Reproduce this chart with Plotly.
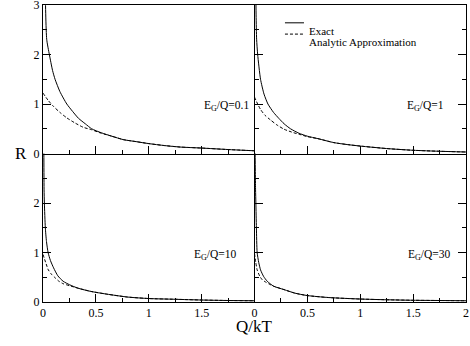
import plotly.graph_objects as go
from plotly.subplots import make_subplots

# values (Q/kT -> R)
x_exact_01 = [0.01, 0.02, 0.035, 0.06, 0.09, 0.114, 0.16, 0.225, 0.28, 0.336, 0.4, 0.46, 0.55, 0.65, 0.76, 0.88, 1.0, 1.15, 1.3, 1.5, 1.75, 2.0]
r_exact_01 = [5.0, 3.4, 2.31, 2.0, 1.68, 1.5, 1.25, 1.0, 0.85, 0.71, 0.6, 0.5, 0.42, 0.35, 0.28, 0.24, 0.2, 0.16, 0.13, 0.11, 0.08, 0.055]
x_appr_01 = [0.0, 0.05, 0.1, 0.16, 0.225, 0.3, 0.38, 0.46, 0.55, 0.65, 0.76, 0.88, 1.0, 1.15, 1.3, 1.5, 1.75, 2.0]
r_appr_01 = [1.22, 1.07, 0.95, 0.83, 0.72, 0.62, 0.53, 0.48, 0.41, 0.35, 0.28, 0.24, 0.2, 0.16, 0.13, 0.11, 0.08, 0.055]

x_exact_1 = [0.005, 0.015, 0.02, 0.03, 0.057, 0.09, 0.127, 0.18, 0.23, 0.28, 0.34, 0.42, 0.5, 0.6, 0.75, 0.88, 1.0, 1.25, 1.5, 1.75, 2.0]
r_exact_1 = [5.0, 2.8, 2.31, 2.0, 1.5, 1.2, 1.0, 0.83, 0.71, 0.6, 0.5, 0.41, 0.35, 0.3, 0.22, 0.18, 0.15, 0.1, 0.065, 0.045, 0.03]
x_appr_1 = [0.0, 0.03, 0.057, 0.1, 0.15, 0.21, 0.28, 0.37, 0.42, 0.5, 0.6, 0.75, 0.88, 1.0, 1.25, 1.5, 1.75, 2.0]
r_appr_1 = [1.14, 1.0, 0.89, 0.77, 0.68, 0.58, 0.49, 0.42, 0.39, 0.34, 0.3, 0.22, 0.18, 0.15, 0.1, 0.065, 0.045, 0.03]

x_exact_10 = [0.003, 0.008, 0.01, 0.013, 0.022, 0.033, 0.048, 0.07, 0.1, 0.14, 0.19, 0.25, 0.33, 0.45, 0.6, 0.8, 1.0, 1.25, 1.5, 1.75, 2.0]
r_exact_10 = [5.0, 3.0, 2.28, 2.0, 1.5, 1.22, 1.0, 0.84, 0.69, 0.53, 0.42, 0.35, 0.28, 0.215, 0.16, 0.1, 0.07, 0.055, 0.04, 0.03, 0.025]
x_appr_10 = [0.0, 0.025, 0.05, 0.08, 0.114, 0.15, 0.19, 0.25, 0.33, 0.45, 0.6, 0.8, 1.0, 1.25, 1.5, 1.75, 2.0]
r_appr_10 = [0.96, 0.8, 0.65, 0.56, 0.49, 0.42, 0.37, 0.33, 0.28, 0.215, 0.16, 0.1, 0.07, 0.055, 0.04, 0.03, 0.025]

x_exact_30 = [0.002, 0.005, 0.01, 0.013, 0.018, 0.025, 0.04, 0.057, 0.085, 0.12, 0.18, 0.28, 0.38, 0.5, 0.7, 1.0, 1.25, 1.5, 1.75, 2.0]
r_exact_30 = [5.0, 3.2, 2.28, 2.0, 1.5, 1.0, 0.8, 0.65, 0.52, 0.42, 0.32, 0.25, 0.18, 0.13, 0.09, 0.06, 0.045, 0.035, 0.03, 0.025]
x_appr_30 = [0.0, 0.012, 0.025, 0.05, 0.073, 0.1, 0.14, 0.18, 0.28, 0.38, 0.5, 0.7, 1.0, 1.25, 1.5, 1.75, 2.0]
r_appr_30 = [0.98, 0.8, 0.65, 0.52, 0.45, 0.41, 0.36, 0.32, 0.25, 0.18, 0.13, 0.09, 0.06, 0.045, 0.035, 0.03, 0.025]

panel_labels = ["E<sub>G</sub>/Q=0.1", "E<sub>G</sub>/Q=1", "E<sub>G</sub>/Q=10", "E<sub>G</sub>/Q=30"]
legend_names = ["Exact", "Analytic Approximation"]

FONT = "Liberation Serif"

fig = make_subplots(rows=2, cols=2, horizontal_spacing=0, vertical_spacing=0)

panels = [
    (1, 1, x_exact_01, r_exact_01, x_appr_01, r_appr_01),
    (1, 2, x_exact_1, r_exact_1, x_appr_1, r_appr_1),
    (2, 1, x_exact_10, r_exact_10, x_appr_10, r_appr_10),
    (2, 2, x_exact_30, r_exact_30, x_appr_30, r_appr_30),
]
for row, col, xe, re_, xa, ra in panels:
    fig.add_trace(go.Scatter(x=xe, y=re_, mode="lines", line=dict(color="black", width=1, shape="spline", smoothing=0.6),
                             showlegend=False), row=row, col=col)
    fig.add_trace(go.Scatter(x=xa, y=ra, mode="lines", line=dict(color="black", width=1, dash="3px,2px", shape="spline", smoothing=0.6),
                             showlegend=False), row=row, col=col)

axis_common = dict(showline=True, linecolor="black", linewidth=1, ticks="inside", ticklen=8,
                   tickwidth=1, tickcolor="black", showgrid=False, zeroline=False,
                   ticklabeloverflow="allow", automargin=False,
                   tickfont=dict(family=FONT, size=12, color="black"))

for row in (1, 2):
    for col in (1, 2):
        xticks = dict(tickvals=[0, 0.5, 1, 1.5, 2] if col == 2 else [0, 0.5, 1, 1.5],
                      showticklabels=(row == 2))
        fig.update_xaxes(range=[0, 2], minor=dict(dtick=0.25, ticklen=4, ticks="inside", tickcolor="black"),
                         mirror=(row == 1), **xticks, **axis_common, row=row, col=col)
        fig.update_yaxes(range=[0, 3], tickvals=[0, 1, 2, 3] if row == 1 else [0, 1, 2],
                         minor=dict(dtick=0.5, ticklen=4, ticks="inside", tickcolor="black"),
                         showticklabels=(col == 1), mirror=("ticks" if col == 2 else False),
                         **axis_common, row=row, col=col)

# panel labels
label_pos = [("x", "y", 1.50), ("x2", "y2", 1.42), ("x3", "y3", 1.41), ("x4", "y4", 1.43)]
for (xr, yr, lx), txt in zip(label_pos, panel_labels):
    fig.add_annotation(x=lx, y=0.95, xref=xr, yref=yr, text=txt, showarrow=False, xanchor="left",
                       font=dict(family=FONT, size=11.5, color="black"))

# legend drawn by hand (tight spacing)
leg_y = [0.940, 0.902]
for yy, name, dash in zip(leg_y, legend_names, ["solid", "3px,2px"]):
    fig.add_shape(type="line", xref="paper", yref="paper", x0=0.572, x1=0.617, y0=yy, y1=yy,
                  line=dict(color="black", width=1, dash=dash))
    fig.add_annotation(x=0.624, y=yy, xref="paper", yref="paper", text=name, showarrow=False,
                       xanchor="left", font=dict(family=FONT, size=11, color="black"))

fig.add_annotation(x=0, y=0.5, xref="paper", yref="paper", text="R", showarrow=False, xshift=-30,
                   font=dict(family=FONT, size=17, color="black"))
fig.add_annotation(x=0.5, y=0, xref="paper", yref="paper", text="Q/kT", showarrow=False, yshift=-36,
                   font=dict(family=FONT, size=17, color="black"))

fig.update_layout(width=470, height=346, margin=dict(l=43, r=4, t=5, b=44),
                  plot_bgcolor="white", paper_bgcolor="white", showlegend=False)

# page body has a default 8px margin; drop it so the figure sits at the corner
fig.write_html("out.html", config={"displayModeBar": False},
               post_script="document.body.style.margin='0px';")
